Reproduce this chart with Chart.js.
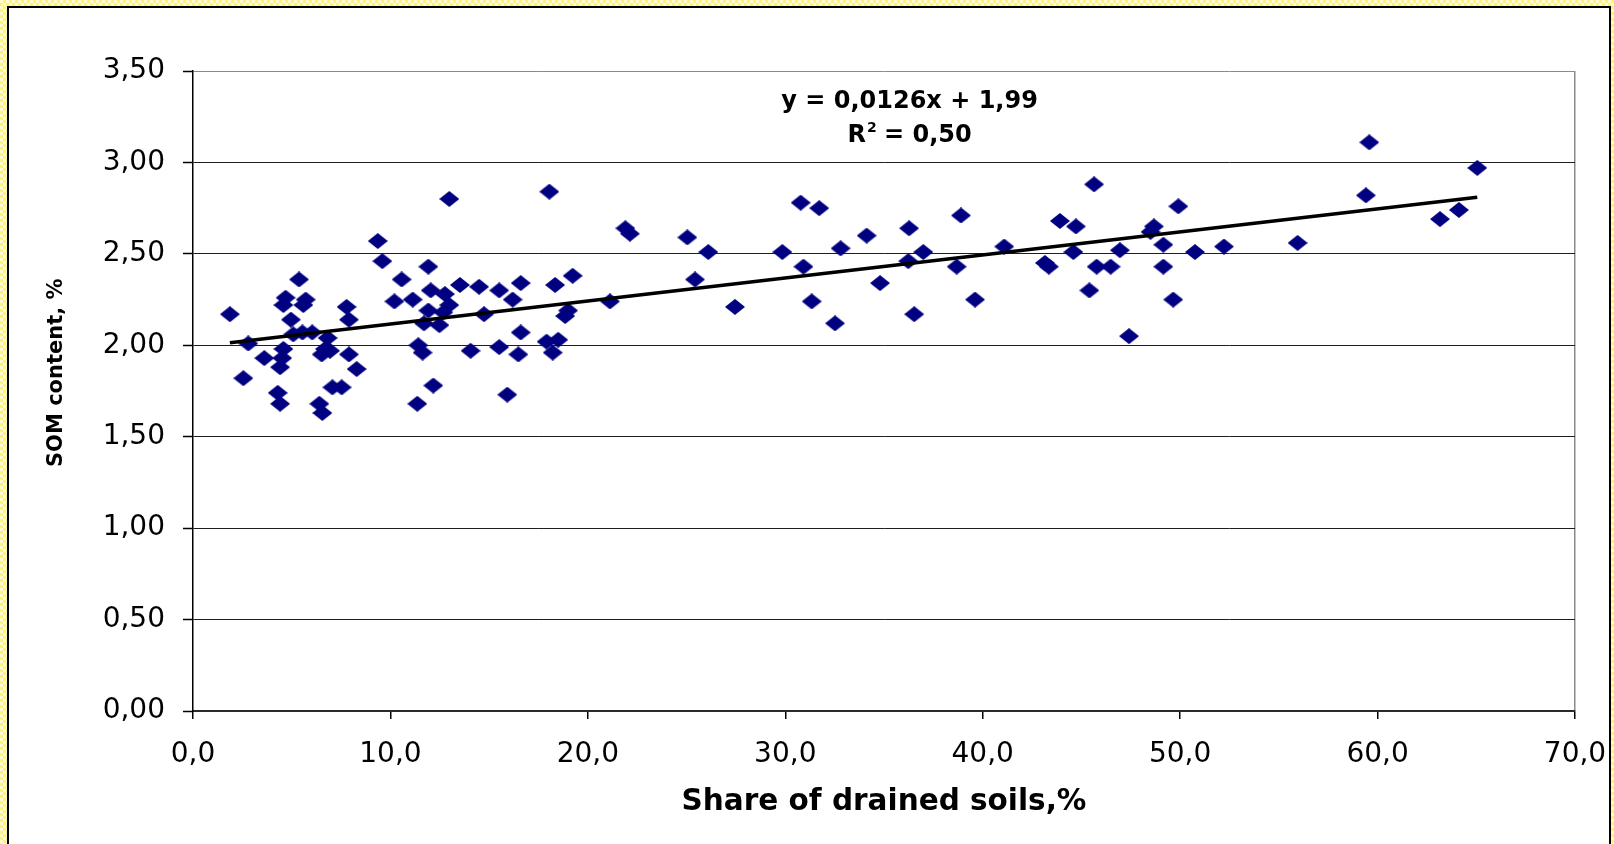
<!DOCTYPE html>
<html>
<head>
<meta charset="utf-8">
<script src="https://cdn.jsdelivr.net/npm/chart.js@4.4.1/dist/chart.umd.min.js"></script>
<style>
  html, body { margin: 0; padding: 0; width: 1614px; height: 844px; overflow: hidden; }
  body { background: repeating-conic-gradient(#fff27a 0 25%, #fffbd2 0 50%) 0 0 / 6px 6px; }
  #frame { position: absolute; left: 7px; top: 6px; width: 1600px; height: 900px; background: #fff; border: 2px solid #000; }
  #wrap { position: absolute; left: 0; top: 0; width: 1614px; height: 844px; }
</style>
</head>
<body>
<div id="frame"></div>
<div id="wrap"><canvas id="c"></canvas></div>
<script>
// Share of drained soils (%) per district
const drainedShare = [
  1.87, 2.80, 2.55, 3.61, 4.69, 4.58, 4.96, 5.37, 5.71, 5.59,
  5.08, 5.54, 6.04, 4.58, 4.52, 4.41, 4.29, 4.41, 6.82, 6.69,
  6.52, 6.94, 7.78, 7.90, 7.90, 8.29, 7.06, 7.53, 6.40, 6.55,
  9.36, 9.59, 10.20, 10.57, 11.13, 11.92, 12.04, 12.76, 11.92, 12.98,
  11.70, 12.48, 12.68, 12.98, 11.41, 11.63, 12.17, 11.36, 13.52, 14.49,
  15.51, 16.19, 16.60, 14.74, 16.60, 14.06, 15.51, 16.48, 15.92, 18.05,
  18.34, 19.23, 19.00, 18.85, 17.91, 18.50, 18.22, 21.12, 21.90, 22.13,
  25.04, 26.10, 25.43, 27.45, 29.85, 30.78, 31.72, 30.92, 31.34, 32.52,
  32.80, 34.12, 34.80, 36.27, 36.23, 36.99, 36.53, 38.68, 38.90, 39.61,
  41.09, 43.15, 43.35, 43.91, 44.72, 44.59, 45.64, 45.77, 46.48, 45.40,
  46.95, 47.41, 48.67, 48.50, 49.15, 49.15, 49.91, 49.65, 50.75, 52.22,
  55.95, 59.58, 59.41, 63.16, 64.12, 65.05
];
// Soil organic matter content (%) per district
const somContent = [
  2.17, 2.01, 1.82, 1.93, 2.26, 2.22, 2.14, 2.36, 2.25, 2.22,
  2.06, 2.07, 2.07, 1.98, 1.93, 1.88, 1.74, 1.68, 2.04, 1.98,
  1.95, 1.97, 2.21, 2.14, 1.95, 1.87, 1.77, 1.77, 1.68, 1.63,
  2.57, 2.46, 2.24, 2.36, 2.25, 2.43, 2.30, 2.28, 2.19, 2.22,
  2.12, 2.11, 2.18, 2.80, 2.00, 1.96, 1.78, 1.68, 2.33, 2.32,
  2.30, 2.25, 2.34, 2.17, 2.07, 1.97, 1.99, 1.95, 1.73, 2.84,
  2.33, 2.38, 2.19, 2.16, 2.02, 2.03, 1.96, 2.24, 2.64, 2.61,
  2.59, 2.51, 2.36, 2.21, 2.51, 2.78, 2.75, 2.43, 2.24, 2.12,
  2.53, 2.60, 2.34, 2.64, 2.46, 2.51, 2.17, 2.43, 2.71, 2.25,
  2.54, 2.45, 2.43, 2.68, 2.65, 2.51, 2.88, 2.43, 2.43, 2.30,
  2.52, 2.05, 2.65, 2.62, 2.55, 2.43, 2.76, 2.25, 2.51, 2.54,
  2.56, 3.11, 2.82, 2.69, 2.74, 2.97
];

// Linear trend as reported on the chart
const trendSlope = 0.0126;
const trendIntercept = 1.99;
const rSquaredLabel = '0,50';

const xTickLabels = ['0,0', '10,0', '20,0', '30,0', '40,0', '50,0', '60,0', '70,0'];
const yTickLabels = ['0,00', '0,50', '1,00', '1,50', '2,00', '2,50', '3,00', '3,50'];

const points = drainedShare.map((x, i) => ({ x: x, y: somContent[i] }));
const xMin = Math.min(...drainedShare);
const xMax = Math.max(...drainedShare);
const trendPoints = [xMin, xMax].map(x => ({ x: x, y: trendSlope * x + trendIntercept }));

// Flattened diamond marker
function diamondMarker(w, h, color) {
  const c = document.createElement('canvas');
  c.width = w; c.height = h;
  const g = c.getContext('2d');
  g.fillStyle = color;
  g.beginPath();
  g.moveTo(w / 2, 0);
  g.lineTo(w, h / 2);
  g.lineTo(w / 2, h);
  g.lineTo(0, h / 2);
  g.closePath();
  g.fill();
  return c;
}
const marker = diamondMarker(20, 16, '#000080');

const comma = v => String(v).replace('.', ',');
const equationText = 'y = ' + comma(trendSlope) + 'x + ' + comma(trendIntercept.toFixed(2));

const equationPlugin = {
  id: 'equation',
  afterDraw(chart) {
    const { ctx, chartArea: a } = chart;
    const cx = a.left + a.width * 0.5185;
    ctx.save();
    ctx.fillStyle = '#000';
    ctx.textBaseline = 'alphabetic';
    const big = 'bold 24px "DejaVu Sans"';
    const small = 'bold 14px "DejaVu Sans"';
    ctx.font = big;
    ctx.textAlign = 'center';
    ctx.fillText(equationText, cx, a.top + 37);

    // R² = value, with a raised 2
    const partR = 'R';
    const partRest = ' = ' + rSquaredLabel;
    ctx.font = big;
    const wR = ctx.measureText(partR).width;
    const wRest = ctx.measureText(partRest).width;
    ctx.font = small;
    const w2 = ctx.measureText('2').width;
    const total = wR + w2 + wRest;
    const x0 = cx - total / 2;
    const base = a.top + 70.5;
    ctx.textAlign = 'left';
    ctx.font = big;
    ctx.fillText(partR, x0, base);
    ctx.font = small;
    ctx.fillText('2', x0 + wR + 1, base - 10);
    ctx.font = big;
    ctx.fillText(partRest, x0 + wR + w2, base);
    ctx.restore();
  }
};

new Chart(document.getElementById('c'), {
  type: 'scatter',
  data: {
    datasets: [
      {
        label: 'Linear trend',
        data: trendPoints,
        showLine: true,
        borderColor: '#000',
        borderWidth: 3.5,
        pointRadius: 0,
        fill: false
      },
      {
        label: 'SOM content',
        data: points,
        pointStyle: marker,
        pointRadius: 9,
        backgroundColor: '#000080',
        borderColor: '#000080'
      }
    ]
  },
  options: {
    responsive: true,
    maintainAspectRatio: false,
    animation: false,
    layout: { padding: { left: 30, top: 71, right: 39, bottom: 0 } },
    plugins: { legend: { display: false }, tooltip: { enabled: false } },
    scales: {
      x: {
        type: 'linear',
        min: 0, max: 70,
        afterFit: s => { s.height = 133; s.paddingLeft = 0; s.paddingRight = 0; },
        ticks: {
          stepSize: 10,
          padding: 19,
          color: '#000',
          font: { family: 'DejaVu Sans', size: 28 },
          callback: (v, i) => xTickLabels[i]
        },
        grid: {
          color: ctx => (ctx.tick && ctx.tick.value === 70) ? '#8a8a8a' : 'rgba(0,0,0,0)',
          lineWidth: 1.5,
          tickColor: '#000',
          tickLength: 8,
          tickWidth: 1.5
        },
        border: { color: '#2a2a2a', width: 2 },
        title: {
          display: true,
          text: 'Share of drained soils,%',
          color: '#000',
          font: { family: 'DejaVu Sans', size: 29.5, weight: 'bold' },
          padding: { top: 0, bottom: 24 }
        }
      },
      y: {
        type: 'linear',
        min: 0, max: 3.5,
        afterFit: s => { s.width = 163; },
        ticks: {
          stepSize: 0.5,
          padding: 18,
          color: '#000',
          font: { family: 'DejaVu Sans', size: 28 },
          callback: (v, i) => yTickLabels[i]
        },
        grid: {
          color: ctx => (ctx.tick && ctx.tick.value === 3.5) ? '#8a8a8a' : '#1e1e1e',
          lineWidth: 1,
          tickColor: '#000',
          tickLength: 10,
          tickWidth: 1.5
        },
        border: { color: '#000', width: 1.5 },
        title: {
          display: true,
          text: '     SOM content, %',
          color: '#000',
          font: { family: 'DejaVu Sans', size: 21, weight: 'bold' },
          padding: { top: 14, bottom: 0 }
        }
      }
    }
  },
  plugins: [equationPlugin]
});
</script>
</body>
</html>
